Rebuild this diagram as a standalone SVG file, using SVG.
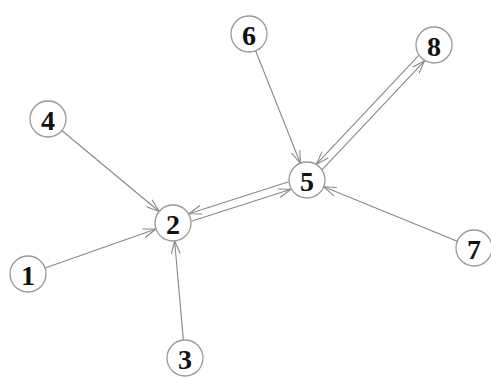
<svg xmlns="http://www.w3.org/2000/svg" width="491" height="378" viewBox="0 0 491 378">
<style>
.node circle{fill:#fff;stroke:#999;stroke-width:1.3}
.node text{font-family:"Liberation Serif",serif;font-weight:bold;font-size:28px;fill:#111;text-anchor:middle;dominant-baseline:central}
.edges line{stroke:#888;stroke-width:1.1;fill:none;marker-end:url(#arr)}
</style>
<defs>
<marker id="arr" markerUnits="userSpaceOnUse" markerWidth="14" markerHeight="10" refX="13" refY="5" orient="auto" viewBox="0 0 14 10">
<path d="M0,0.5 L13,5 L0,9.5" fill="none" stroke="#888" stroke-width="1.1"/>
</marker>
</defs>
<rect width="491" height="378" fill="#fff"/>
<g id="connectors" class="edges">
<line x1="61.8" y1="130.5" x2="159.2" y2="211.5"/>
<line x1="45" y1="268" x2="156" y2="229"/>
<line x1="183.4" y1="340.1" x2="174.6" y2="241"/>
<line x1="255.6" y1="50.7" x2="300.4" y2="163.3"/>
<line x1="457.3" y1="241.2" x2="323.7" y2="186.8"/>
<line x1="288.7" y1="181.7" x2="188.9" y2="213.7"/>
<line x1="191.3" y1="221.3" x2="291.1" y2="189.3"/>
<line x1="418.8" y1="55.4" x2="316.4" y2="164.2"/>
<line x1="322.2" y1="169.6" x2="424.6" y2="60.8"/>
</g>
<g id="node1" class="node"><circle cx="28" cy="274" r="18"/><text x="28" y="275">1</text></g>
<g id="node2" class="node"><circle cx="173" cy="223" r="18"/><text x="173" y="224">2</text></g>
<g id="node3" class="node"><circle cx="185" cy="358" r="18"/><text x="185" y="359">3</text></g>
<g id="node4" class="node"><circle cx="48" cy="119" r="18"/><text x="48" y="120">4</text></g>
<g id="node5" class="node"><circle cx="307" cy="180" r="18"/><text x="307" y="181">5</text></g>
<g id="node6" class="node"><circle cx="249" cy="34" r="18"/><text x="249" y="35">6</text></g>
<g id="node7" class="node"><circle cx="474" cy="248" r="18"/><text x="474" y="249">7</text></g>
<g id="node8" class="node"><circle cx="434" cy="45" r="18"/><text x="434" y="46">8</text></g>
</svg>
